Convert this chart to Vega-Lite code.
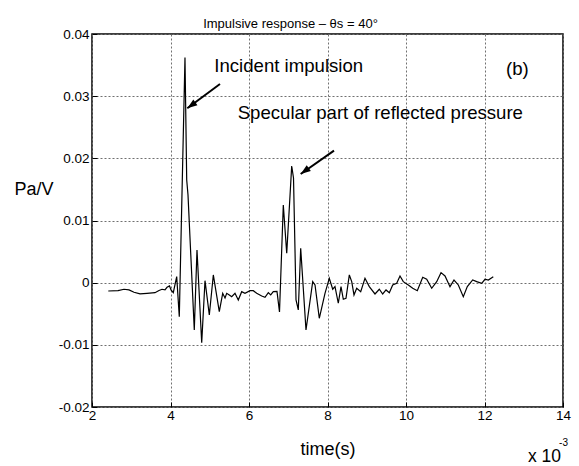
{
  "$schema": "https://vega.github.io/schema/vega-lite/v6.json",
  "width": 471,
  "height": 373,
  "autosize": "none",
  "padding": {"left": 92, "top": 34, "right": 16, "bottom": 59},
  "background": "white",
  "config": {
    "font": "Liberation Sans",
    "view": {"stroke": "black", "strokeWidth": 1.5}
  },
  "title": {
    "text": "Impulsive response – θs = 40°",
    "fontSize": 13,
    "fontWeight": "normal",
    "color": "black",
    "anchor": "middle",
    "frame": "group",
    "dx": -37,
    "dy": 24,
    "offset": 10,
    "baseline": "alphabetic"
  },
  "datasets": {
    "signal": [
      {"t": 2.415, "p": -0.00134}, {"t": 2.662, "p": -0.00129}, {"t": 2.815, "p": -0.00106},
      {"t": 2.943, "p": -0.00117}, {"t": 3.070, "p": -0.00154}, {"t": 3.223, "p": -0.00179},
      {"t": 3.401, "p": -0.00171}, {"t": 3.605, "p": -0.00161}, {"t": 3.707, "p": -0.00125},
      {"t": 3.783, "p": -0.00106}, {"t": 3.860, "p": -0.00117}, {"t": 3.911, "p": -0.00074},
      {"t": 3.975, "p": -0.00053}, {"t": 4.013, "p": -0.00117}, {"t": 4.071, "p": -0.00161},
      {"t": 4.158, "p": 0.00097}, {"t": 4.224, "p": -0.00547}, {"t": 4.369, "p": 0.0362},
      {"t": 4.413, "p": 0.01652}, {"t": 4.446, "p": 0.01411}, {"t": 4.606, "p": -0.00761},
      {"t": 4.675, "p": 0.00526}, {"t": 4.795, "p": -0.00965}, {"t": 4.879, "p": 0.00032},
      {"t": 4.989, "p": -0.0052}, {"t": 5.091, "p": 0.00124}, {"t": 5.243, "p": -0.00466},
      {"t": 5.330, "p": -0.00171}, {"t": 5.389, "p": -0.00246}, {"t": 5.432, "p": -0.00171},
      {"t": 5.498, "p": -0.00198}, {"t": 5.559, "p": -0.00225}, {"t": 5.643, "p": -0.00171},
      {"t": 5.727, "p": -0.00278}, {"t": 5.814, "p": -0.00145}, {"t": 5.898, "p": -0.00171},
      {"t": 6.026, "p": -0.00129}, {"t": 6.110, "p": -0.00129}, {"t": 6.196, "p": -0.00171},
      {"t": 6.324, "p": -0.00214}, {"t": 6.408, "p": -0.00235}, {"t": 6.492, "p": -0.00161},
      {"t": 6.553, "p": -0.00198}, {"t": 6.619, "p": -0.00145}, {"t": 6.713, "p": -0.00142},
      {"t": 6.777, "p": -0.00471}, {"t": 6.874, "p": 0.0125}, {"t": 6.961, "p": 0.00473},
      {"t": 7.088, "p": 0.01877}, {"t": 7.134, "p": 0.01684}, {"t": 7.198, "p": -0.00278},
      {"t": 7.256, "p": -0.00439}, {"t": 7.317, "p": 0.00553}, {"t": 7.452, "p": -0.00761},
      {"t": 7.623, "p": 0.00016}, {"t": 7.682, "p": -0.00037}, {"t": 7.791, "p": -0.00573},
      {"t": 7.936, "p": -0.00171}, {"t": 8.046, "p": 0.00071}, {"t": 8.133, "p": -0.00106},
      {"t": 8.191, "p": -0.00064}, {"t": 8.275, "p": -0.00331}, {"t": 8.344, "p": -0.00064},
      {"t": 8.403, "p": -0.00267}, {"t": 8.471, "p": -0.00251}, {"t": 8.556, "p": 0.00124},
      {"t": 8.617, "p": 0.00016}, {"t": 8.675, "p": -0.00198}, {"t": 8.744, "p": -0.0009},
      {"t": 8.846, "p": -0.00145}, {"t": 8.955, "p": 0.00071}, {"t": 9.065, "p": -0.00064},
      {"t": 9.210, "p": -0.00182}, {"t": 9.320, "p": -0.00106}, {"t": 9.406, "p": -0.00182},
      {"t": 9.491, "p": -0.00117}, {"t": 9.575, "p": -0.00161}, {"t": 9.661, "p": -0.00037},
      {"t": 9.763, "p": -0.0001}, {"t": 9.847, "p": 0.00108}, {"t": 9.931, "p": 0.00016},
      {"t": 10.059, "p": -0.00037}, {"t": 10.171, "p": -0.0009}, {"t": 10.288, "p": -0.00129},
      {"t": 10.426, "p": 0.00087}, {"t": 10.527, "p": 0.00055}, {"t": 10.655, "p": -0.0009},
      {"t": 10.782, "p": 0.00016}, {"t": 10.892, "p": 0.00161}, {"t": 10.994, "p": 0.00108},
      {"t": 11.121, "p": -0.00064}, {"t": 11.223, "p": 0.00043}, {"t": 11.333, "p": -0.00037},
      {"t": 11.460, "p": -0.00225}, {"t": 11.562, "p": -0.00064}, {"t": 11.699, "p": 0.00043},
      {"t": 11.801, "p": 0.00016}, {"t": 11.929, "p": -0.0001}, {"t": 12.013, "p": 0.00055},
      {"t": 12.097, "p": 0.00043}, {"t": 12.224, "p": 0.00097}
    ],
    "arrows": [
      {"t1": 5.261, "p1": 0.03196, "t2": 4.428, "p2": 0.02805},
      {"t1": 8.166, "p1": 0.02123, "t2": 7.317, "p2": 0.01748}
    ],
    "notes": [
      {"t": 5.116, "p": 0.03389, "label": "Incident impulsion"},
      {"t": 5.712, "p": 0.02628, "label": "Specular part of reflected pressure"},
      {"t": 12.55, "p": 0.0334, "label": "(b)"}
    ]
  },
  "layer": [
    {
      "data": {"name": "signal"},
      "mark": {"type": "line", "color": "black", "strokeWidth": 1.2},
      "encoding": {
        "x": {
          "field": "t", "type": "quantitative",
          "scale": {"domain": [2, 14], "nice": false, "zero": false},
          "axis": {
            "title": "time(s)",
            "values": [2, 4, 6, 8, 10, 12, 14],
            "labelExpr": "format(datum.value, 'd')",
            "grid": true, "gridColor": "#707070", "gridDash": [2, 2], "gridWidth": 1, "gridOpacity": 1,
            "domain": false,
            "ticks": true, "tickSize": -5, "tickColor": "black", "tickWidth": 1,
            "labelFont": "Liberation Sans", "labelFontSize": 13.5, "labelColor": "black",
            "labelPadding": 6, "labelFlush": false,
            "titleFont": "Liberation Sans", "titleFontSize": 18, "titleFontWeight": "normal",
            "titleColor": "black", "titleY": 47, "titleBaseline": "alphabetic"
          }
        },
        "y": {
          "field": "p", "type": "quantitative",
          "scale": {"domain": [-0.02, 0.04], "nice": false, "zero": false},
          "axis": {
            "title": "Pa/V",
            "values": [-0.02, -0.01, 0, 0.01, 0.02, 0.03, 0.04],
            "labelExpr": "datum.value == 0 ? '0' : (datum.value < 0 ? '-' : '') + format(abs(datum.value), '.2f')",
            "grid": true, "gridColor": "#707070", "gridDash": [2, 2], "gridWidth": 1, "gridOpacity": 1,
            "domain": false,
            "ticks": true, "tickSize": -5, "tickColor": "black", "tickWidth": 1,
            "labelFont": "Liberation Sans", "labelFontSize": 13.5, "labelColor": "black",
            "labelPadding": 8, "labelFlush": false,
            "titleFont": "Liberation Sans", "titleFontSize": 18, "titleFontWeight": "normal",
            "titleColor": "black", "titleAngle": 0, "titleAlign": "left",
            "titleBaseline": "alphabetic", "titleX": -78, "titleY": 160
          }
        }
      }
    },
    {
      "data": {"name": "arrows"},
      "mark": {"type": "rule", "color": "black", "strokeWidth": 2},
      "encoding": {
        "x": {"field": "t1", "type": "quantitative"},
        "y": {"field": "p1", "type": "quantitative"},
        "x2": {"field": "t2"},
        "y2": {"field": "p2"}
      }
    },
    {
      "data": {"name": "arrows"},
      "mark": {"type": "point", "shape": "M0,0L-0.35,1L0.35,1Z", "filled": true, "color": "black", "opacity": 1, "size": 400, "angle": 234},
      "encoding": {
        "x": {"field": "t2", "type": "quantitative"},
        "y": {"field": "p2", "type": "quantitative"}
      }
    },
    {
      "data": {"name": "notes"},
      "mark": {"type": "text", "align": "left", "baseline": "alphabetic", "fontSize": 18.6, "font": "Liberation Sans", "color": "black"},
      "encoding": {
        "x": {"field": "t", "type": "quantitative"},
        "y": {"field": "p", "type": "quantitative"},
        "text": {"field": "label"}
      }
    },
    {
      "data": {"values": [{"t": 13.95, "p": -0.02885, "label": "x 10"}]},
      "mark": {"type": "text", "align": "right", "baseline": "alphabetic", "fontSize": 17.5, "font": "Liberation Sans", "color": "black"},
      "encoding": {
        "x": {"field": "t", "type": "quantitative"},
        "y": {"field": "p", "type": "quantitative"},
        "text": {"field": "label"}
      }
    },
    {
      "data": {"values": [{"t": 13.9, "p": -0.02625, "label": "-3"}]},
      "mark": {"type": "text", "align": "left", "baseline": "alphabetic", "fontSize": 10, "font": "Liberation Sans", "color": "black"},
      "encoding": {
        "x": {"field": "t", "type": "quantitative"},
        "y": {"field": "p", "type": "quantitative"},
        "text": {"field": "label"}
      }
    }
  ]
}
